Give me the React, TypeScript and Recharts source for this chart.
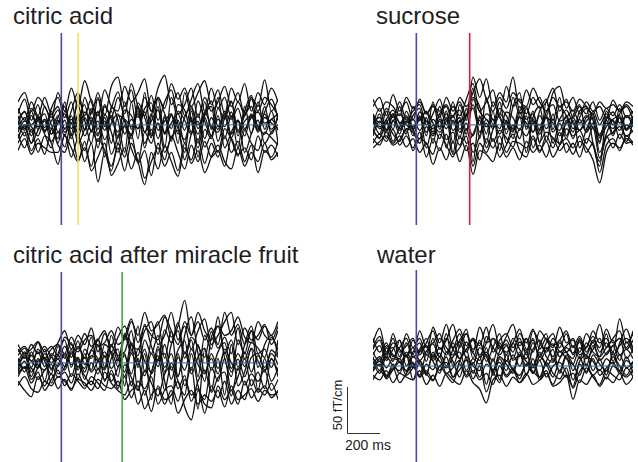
import { LineChart, Line, XAxis, YAxis, ReferenceLine } from "recharts";

// time in ms relative to stimulus onset
const times = [
  -260, -220, -180, -140, -100, -60, -20, 20, 60, 100, 140, 180, 220, 260, 300, 340, 380, 420, 460, 500,
  540, 580, 620, 660, 700, 740, 780, 820, 860, 900, 940, 980, 1020, 1060, 1100, 1140, 1180, 1220, 1260, 1300,
];

// citric acid (fT/cm)
const citric = [
  [12, 28, 5, 22, -8, 18, 30, 8, 25, -5, 30, 12, 35, 10, 42, 52, 20, 38, 8, 30, 15, 40, 54, 22, 35, 10, 28, 45, 15, 40, 18, 30, 8, 25, 12, 30, 20, 49, 15, 28],
  [-10, -25, -5, -30, -12, -20, -43, -10, -35, -15, -40, -20, -62, -30, -45, -25, -50, -20, -40, -65, -30, -48, -22, -40, -56, -25, -38, -15, -42, -20, -35, -12, -30, -18, -40, -22, -52, -28, -35, -18],
  [5, -12, 15, -5, 20, 0, -15, 25, -10, 30, 5, -20, 15, -35, 20, 5, -30, 25, -15, 35, -10, 20, -25, 30, 0, -30, 15, -20, 25, -5, 30, -15, 10, -25, 20, -10, 25, -5, 15, -20],
  [-5, 8, -12, 10, -3, 15, -8, 5, -15, 12, -5, 18, -10, 8, -20, 10, 5, -12, 20, -8, 12, -15, 8, -18, 15, 5, -10, 12, -15, 8, -5, 15, -10, 5, -12, 10, -8, 12, -5, 8],
  [18, 5, 25, 10, 30, 12, 20, -5, 15, 35, 10, 28, -5, 22, 8, 30, 12, 45, 20, 10, 32, 5, 25, 38, 12, 22, 40, 8, 30, 15, 25, 42, 20, 35, 10, 28, 15, 30, 22, 10],
  [-20, -8, -28, -15, -32, -5, -22, -30, -10, -38, -25, -45, -15, -28, -50, -20, -35, -10, -42, -28, -55, -20, -38, -12, -30, -48, -22, -40, -18, -35, -28, -45, -15, -32, -25, -38, -12, -30, -22, -35],
  [0, 15, -8, 5, 12, -10, 8, 20, -12, 5, 22, -8, 30, 0, 15, -22, 25, -5, 18, -25, 10, 28, -10, 12, -20, 35, 5, -25, 10, 20, -18, 8, 25, -12, 15, 32, -5, 20, -10, 12],
  [-15, 0, -20, 8, -10, -25, 5, -12, 10, -20, -5, 8, -25, 12, -8, -30, 0, -15, 15, -20, -5, -32, 10, -15, 5, -20, 8, -35, -5, -15, 10, -25, -8, 5, -30, -10, 5, -20, -8, 0],
  [25, 35, 15, 30, 20, 8, 35, 15, 40, 20, 48, 25, 10, 38, 20, 15, 42, 25, 35, 50, 15, 30, 18, 45, 28, 40, 20, 35, 48, 22, 38, 12, 40, 25, 45, 15, 35, 22, 40, 25],
  [-28, -15, -32, -20, -25, -30, -30, -12, -25, -40, -18, -50, -35, -20, -55, -42, -25, -48, -30, -58, -40, -25, -45, -30, -50, -20, -42, -28, -52, -35, -22, -40, -48, -25, -45, -30, -40, -20, -38, -30],
  [3, -6, 10, -2, 6, -10, 2, 12, -4, 8, -12, 4, 14, -6, 10, -14, 6, -2, 12, -8, 4, 16, -10, 2, 12, -6, 18, -4, 8, -12, 6, -2, 14, -8, 4, 10, -6, 8, 2, -4],
  [-8, 4, -2, -12, 6, -4, 10, -8, 2, -14, 8, -6, 4, -16, 2, 12, -10, 6, -4, 14, -12, 2, -8, 10, -4, -16, 6, -10, 14, -2, -8, 10, -14, 4, -6, 12, -2, -10, 6, -6],
  [10, -4, 18, 6, -8, 12, -20, 15, 2, 22, -6, 14, 28, -2, 18, 36, 4, -10, 24, 8, -14, 30, 12, -4, 22, 16, -8, 26, 4, -12, 18, 6, 26, -6, 10, 20, -2, 14, 28, 6],
  [-14, -2, -20, -6, 4, -18, -8, -24, 2, -10, -28, -6, -18, 4, -32, -12, -2, -26, -40, -8, -20, 2, -30, -14, -6, -38, -10, 4, -24, -12, -30, -4, -16, -34, -6, -20, -28, -8, -14, -22],
  [6, 14, 0, 8, -6, 4, 16, -4, 6, -8, 14, 2, -12, 20, 6, -8, 16, 10, -4, 18, 24, -6, 4, 12, -10, 8, 20, 0, 12, 26, -2, 12, 6, 18, -4, 8, 14, 2, 6, 12],
];

// sucrose
const sucrose = [
  [20, 30, 10, 33, 15, 25, 5, 28, 12, 22, 8, 30, 15, 25, 10, 52, 30, 50, 20, 35, 25, 52, 15, 38, 22, 30, 10, 35, 42, 18, 30, 12, 25, 15, 20, 8, 27, 15, 22, 12],
  [-15, -22, -8, -20, -12, -24, -15, -30, -20, -43, -25, -38, -18, -40, -22, -54, -28, -32, -40, -20, -35, -25, -38, -18, -30, -22, -35, -15, -28, -20, -32, -18, -25, -38, -63, -30, -20, -25, -15, -22],
  [5, -10, 15, -5, 20, -8, 10, 18, -12, 25, -5, 15, -20, 22, 5, 40, -15, 30, 0, 25, -10, 20, 35, -5, 15, -20, 25, 5, 30, -12, 10, 22, -8, 15, 0, 12, -10, 18, -5, 10],
  [-8, 12, -15, 5, -10, 15, -5, -15, 8, -20, 12, -25, 5, -15, 18, -40, 10, -20, 15, -28, 5, -15, 10, -30, 8, 20, -18, 12, -22, 5, -15, 8, 18, -20, -45, 5, -12, 8, -18, 5],
  [12, 2, 18, 8, 25, 5, 15, 22, 0, 12, 28, 5, 20, 10, 28, 45, 15, 25, 38, 12, 42, 20, 28, 12, 30, 18, 25, 40, 15, 28, 8, 20, 12, 25, 5, 18, 10, 22, 8, 15],
  [-20, -10, -18, -5, -22, -12, -25, -8, -35, -15, -28, -10, -32, -25, -12, -45, -20, -30, -15, -35, -22, -10, -28, -35, -15, -30, -12, -25, -8, -30, -20, -35, -15, -22, -40, -12, -25, -10, -20, -18],
  [0, 18, -5, 12, 2, -10, 20, 5, 15, -8, 20, 0, 25, -5, 10, 30, 20, -10, 25, 8, -5, 30, 12, 20, -8, 15, 28, -5, 20, 10, -8, 15, 20, 5, -20, 15, 0, 12, 20, 5],
  [-5, -15, 5, -18, -2, 8, -12, 10, -25, 0, -15, 8, -30, 5, -20, -10, 5, -25, -5, 10, -20, 0, -15, 10, -25, -5, 8, -20, 2, -15, 5, -25, -5, 8, -30, -10, 5, -15, 0, -8],
  [28, 15, 25, 20, 10, 30, 18, 25, 12, 20, 15, 22, 8, 30, 20, 35, 50, 28, 15, 30, 18, 35, 25, 20, 40, 25, 15, 30, 20, 25, 15, 28, 20, 12, 25, 18, 22, 15, 25, 20],
  [-12, 4, -8, 10, -4, 2, 6, -6, 4, -10, 6, -4, 10, -8, 2, -12, 8, -2, 6, -10, 4, -6, 8, 2, -8, 10, -4, 6, -12, 2, 8, -6, 4, 10, -12, 2, -4, 8, -6, 4],
  [8, -4, 2, 12, -6, 4, -2, 8, -8, 6, -2, 12, -6, 4, 10, 18, -8, 6, -4, 12, 2, -8, 14, -2, 6, -10, 8, 2, -6, 10, -4, 6, -8, 2, -18, 8, 4, -6, 10, -2],
  [-25, -18, -12, -22, -16, -5, -28, -15, -20, -32, -10, -22, -35, -12, -28, -20, -38, -15, -25, -12, -30, -18, -20, -25, -12, -28, -18, -35, -22, -15, -25, -12, -30, -20, -52, -22, -15, -28, -12, -20],
  [10, -2, 6, 16, 2, 10, -6, 14, 4, -4, 12, 20, 2, 8, -10, 28, 14, 6, -2, 18, 10, -4, 20, 6, 12, -6, 14, 22, 4, 8, 16, 2, 10, -4, -10, 6, 14, 2, 10, 4],
  [-6, -14, 2, -10, -18, -4, -8, -20, -2, -12, 4, -16, -8, -22, -4, -30, -12, 2, -18, -6, -14, -24, -4, -12, 2, -18, -8, -14, -20, -4, -12, -6, -20, -2, -36, -14, -8, -2, -12, -6],
  [2, 8, -6, 4, 12, 0, -4, 6, 14, 2, -8, 4, 10, 16, -6, 22, 0, 12, 6, -4, 14, 8, -6, 18, 4, 0, 10, -8, 6, 16, 2, -6, 8, 12, -14, -2, 6, 10, -4, 8],
];

// citric acid after miracle fruit
const miracle = [
  [15, 5, 20, 10, 18, 8, 22, 35, 15, 30, 20, 38, 12, 32, 18, 39, 25, 45, 30, 55, 35, 42, 52, 28, 40, 68, 30, 45, 25, 38, 20, 55, 30, 42, 20, 35, 25, 40, 30, 45],
  [-20, -30, -37, -15, -25, -12, -28, -18, -30, -12, -25, -20, -28, -10, -22, -30, -35, -20, -45, -30, -53, -25, -40, -35, -20, -48, -62, -30, -45, -49, -25, -40, -30, -45, -20, -38, -28, -35, -22, -40],
  [5, -10, 12, -5, 15, -8, 10, 25, -5, 18, 5, 28, -8, 20, 10, -15, 30, 10, 40, -10, 25, 45, 5, 35, -15, 30, 50, 10, -20, 28, 40, 5, -15, 25, 10, 35, -5, 20, 30, 8],
  [-8, 10, -15, 5, -20, 8, -12, -5, 15, -18, 10, -8, 20, -20, 5, 15, -25, 20, -30, 10, -40, 15, -20, -45, 10, -25, -5, -50, 15, -30, 5, -35, 20, -25, -10, 15, -30, 5, -20, -5],
  [12, 18, 8, 22, 5, 15, 20, 10, 28, 15, 32, 18, 25, 35, 12, 28, 40, 20, 15, 35, 45, 20, 30, 55, 25, 40, 15, 35, 48, 20, 30, 45, 55, 20, 38, 25, 30, 42, 20, 35],
  [-15, -5, -22, -10, -30, -18, -8, -25, -12, -20, -28, -15, -22, -30, -8, -25, -15, -38, -20, -28, -15, -45, -30, -25, -42, -18, -35, -28, -55, -25, -38, -20, -45, -30, -40, -18, -32, -25, -38, -30],
  [0, 12, -5, 15, 2, -12, 18, 5, 22, -8, 15, 5, 25, -5, 30, 8, 12, 35, -5, 25, 10, 30, -10, 20, 35, 5, 25, -15, 30, 15, 50, 10, 25, -5, 20, 40, 10, 15, -5, 25],
  [-10, 2, -18, -5, 5, -22, -2, 8, -15, 5, -18, 0, -12, 8, -20, -5, 10, -25, 5, -35, -10, 8, -30, 0, -20, -35, 10, -25, -40, -5, -20, 5, -30, -15, 5, -25, -10, -28, 5, -15],
  [20, 10, 15, 23, 12, 18, 8, 28, 20, 12, 25, 30, 18, 22, 35, 20, 28, 48, 22, 40, 30, 25, 50, 35, 20, 45, 30, 55, 35, 25, 40, 30, 35, 50, 28, 22, 45, 30, 25, 40],
  [-25, -15, -28, -32, -20, -25, -15, -20, -28, -18, -22, -30, -18, -25, -28, -20, -40, -30, -25, -50, -35, -28, -45, -30, -55, -40, -30, -45, -35, -42, -30, -48, -25, -40, -35, -28, -42, -30, -35, -32],
  [4, -6, 8, -2, -8, 6, -4, 10, -2, 6, -10, 8, 2, -6, 12, -4, 8, -12, 15, 2, -10, 18, -5, 10, -15, 12, -8, 20, -10, 5, -12, 15, 0, -8, 12, -10, 8, -5, 10, -2],
  [-4, 8, -10, 2, 6, -6, 4, -8, 10, -4, 6, -10, 2, 12, -6, 4, -15, 10, -2, 15, -12, 4, 10, -18, 6, -8, 15, -2, -12, 10, -6, 12, -10, 4, -15, 6, 10, -8, 4, -10],
  [8, 16, 2, 12, -4, 10, 4, 18, 6, 24, -2, 14, 26, 6, 20, 2, 32, 14, 8, 42, 18, 2, 36, 22, 44, 10, 28, 18, 6, 34, 16, 28, 10, 38, 4, 22, 16, 6, 28, 14],
  [-12, -4, -6, -18, -8, -2, -16, -10, -22, -4, -14, -24, -6, -18, -12, -28, -2, -16, -30, -8, -22, -36, -12, -4, -28, -14, -42, -20, -8, -32, -16, -10, -36, -6, -24, -12, -20, -8, -30, -18],
  [-2, 6, 2, -6, 10, 0, 8, -4, 12, 2, -6, 14, 4, -8, 18, 6, -10, 22, 2, -14, 10, -4, 20, -8, 14, 24, -12, 6, 16, -8, 12, 22, -6, 10, -4, 16, 2, -10, 14, 6],
];

// water
const water = [
  [25, 41, 15, 30, 10, 35, 20, 30, 12, 42, 25, 45, 20, 35, 15, 30, 22, 42, 15, 28, 35, 20, 30, 12, 38, 25, 15, 30, 20, 35, 12, 28, 20, 38, 25, 30, 15, 51, 25, 35],
  [-10, -15, -5, -18, -8, -12, -15, -5, -20, -10, -22, -8, -15, -20, -5, -18, -25, -40, -15, -10, -22, -12, -18, -8, -20, -15, -5, -22, -18, -10, -36, -15, -20, -10, -22, -12, -18, -8, -20, -12],
  [10, -5, 20, 5, 28, 0, 15, 25, 5, 30, 10, 35, 0, 22, 40, 8, 28, 5, 20, 35, 5, 25, 10, 30, 0, 22, 35, 5, 25, 15, 8, 30, 0, 22, 10, 35, 5, 25, 40, 15],
  [-5, 8, -12, 2, -8, 12, -15, 5, -10, 15, -5, 10, -12, 5, 18, -8, 10, -20, 8, -15, 12, -5, 15, -10, 8, -12, 5, 18, -8, 10, -15, 5, 12, -5, 8, -10, 15, -5, 10, -8],
  [18, 28, 8, 35, 15, 22, 30, 12, 25, 38, 18, 28, 45, 20, 35, 15, 42, 25, 30, 18, 32, 45, 22, 30, 15, 38, 28, 20, 42, 25, 30, 15, 35, 25, 45, 20, 30, 38, 18, 28],
  [5, -8, 10, 0, -5, 15, 2, -10, 12, 5, -8, 15, 5, -12, 10, 0, -5, 20, -10, 8, -5, 12, 0, 15, -8, 10, 2, -12, 8, 15, -5, 10, -8, 12, 2, -5, 10, 0, -10, 5],
  [30, 15, 25, 10, 20, 30, 12, 38, 20, 25, 35, 15, 28, 40, 22, 30, 12, 25, 45, 20, 28, 15, 35, 25, 40, 18, 30, 22, 28, 38, 20, 32, 15, 28, 20, 40, 25, 30, 20, 38],
  [-15, -5, -12, -2, -18, -8, 0, -12, -5, -15, 0, -10, -18, 2, -12, -5, -15, -8, -20, 0, -12, -5, -18, -10, 2, -15, -8, -20, -5, -12, -8, -18, -2, -12, -20, -5, -10, -15, -2, -12],
  [15, 5, 22, 12, 8, 25, 10, 18, 30, 8, 20, 12, 25, 8, 18, 28, 10, 15, 5, 25, 12, 30, 18, 8, 25, 12, 20, 10, 28, 15, 22, 8, 25, 15, 10, 20, 28, 12, 18, 8],
  [2, 10, -2, 8, 5, -5, 10, 2, -8, 12, 5, -2, 10, 15, -5, 8, 2, 12, -5, 10, 2, -8, 12, 5, -2, 15, 0, 8, -5, 12, 2, -10, 10, 5, -5, 8, 2, 12, -2, 5],
  [20, 32, 12, 25, 18, 10, 28, 15, 22, 10, 30, 20, 12, 28, 35, 18, 25, 12, 30, 22, 15, 25, 40, 18, 28, 10, 25, 35, 15, 22, 28, 12, 20, 32, 15, 25, 12, 22, 30, 20],
  [-2, 5, -10, -4, 8, -6, 4, -12, 2, -4, 10, -8, -2, 6, -10, 4, -12, 2, -6, -18, 6, -4, -10, 2, -8, 6, -12, 0, 4, -8, -22, 2, -6, 8, -10, -2, 4, -8, 6, -2],
  [12, 22, 6, 18, 28, 10, 20, 6, 16, 24, 10, 30, 18, 8, 26, 14, 6, 32, 20, 12, 22, 8, 26, 16, 30, 6, 18, 24, 10, 20, 14, 26, 8, 18, 30, 12, 22, 6, 26, 14],
  [-6, 2, -14, -4, 4, -10, -2, 6, -8, -16, 0, 4, -12, -4, 6, -14, 0, -28, -6, 4, -10, -2, -14, 2, -6, -12, 4, -8, -14, -2, -24, -6, 2, -10, -4, -14, 0, -6, -12, -4],
  [8, 0, 14, 20, 4, 12, -2, 16, 22, 6, 14, 0, 18, 26, 8, 2, 20, 10, -4, 16, 24, 6, 12, 0, 18, 28, 10, 4, 16, 8, 2, 20, 12, 26, 6, 14, 22, 30, 8, 18],
];

type Marker = { x: number; color: string };

const Panel = ({ traces, markers, left, top, height, domain }: {
  traces: number[][]; markers: Marker[]; left: number; top: number; height: number; domain: [number, number];
}) => {
  const rows = times.map((t, i) => {
    const r: any = { t };
    traces.forEach((tr, k) => (r["c" + k] = tr[i]));
    return r;
  });
  return (
    <div style={{ position: "absolute", left, top }}>
      <LineChart width={260} height={height} data={rows} margin={{ top: 0, right: 0, bottom: 0, left: 0 }}>
        <XAxis dataKey="t" type="number" domain={[-260, 1300]} hide />
        <YAxis type="number" domain={domain} hide allowDataOverflow />
        {traces.map((_, k) => (
          <Line key={k} dataKey={"c" + k} type="monotone" stroke="#111" strokeWidth={1.3} dot={false} isAnimationActive={false} />
        ))}
        <ReferenceLine y={0} stroke="#2f6496" strokeWidth={1} />
        {markers.map((m) => (
          <ReferenceLine key={m.x} x={m.x} stroke={m.color} strokeWidth={1.6} />
        ))}
      </LineChart>
    </div>
  );
};

const blue = "#4b4b9c";

export default function App() {
  const font = "'Liberation Sans', Arial, Helvetica, sans-serif";
  return (
    <div style={{ position: "absolute", left: 0, top: 0, width: 638, height: 462, background: "#fff", overflow: "hidden" }}>
      <Panel traces={citric} markers={[{ x: 0, color: blue }, { x: 100, color: "#f3e15a" }]} left={18} top={33} height={192} domain={[-109, 100]} />
      <Panel traces={sucrose} markers={[{ x: 0, color: blue }, { x: 320, color: "#c8203f" }]} left={373} top={33} height={192} domain={[-109, 100]} />
      <Panel traces={miracle} markers={[{ x: 0, color: blue }, { x: 365, color: "#45a849" }]} left={18} top={272} height={190} domain={[-108, 99]} />
      <Panel traces={water} markers={[{ x: 0, color: blue }]} left={373} top={270} height={192} domain={[-104, 104]} />
      <svg width={638} height={462} style={{ position: "absolute", left: 0, top: 0, pointerEvents: "none" }}>
        <g fontFamily={font} fill="#1e1e1e" fontSize={24}>
          <text x={13} y={24}>citric acid</text>
          <text x={376} y={24}>sucrose</text>
          <text x={13} y={263}>citric acid after miracle fruit</text>
          <text x={377} y={263}>water</text>
        </g>
        <path d="M347.5 387 V433.5 H380" stroke="#333" strokeWidth={1} fill="none" />
        <text x={345} y={450} fontFamily={font} fontSize={14} fill="#222">200 ms</text>
        <text x={342} y={405} fontFamily={font} fontSize={13} fill="#222" textAnchor="middle" transform="rotate(-90 342 405)">50 fT/cm</text>
      </svg>
    </div>
  );
}
